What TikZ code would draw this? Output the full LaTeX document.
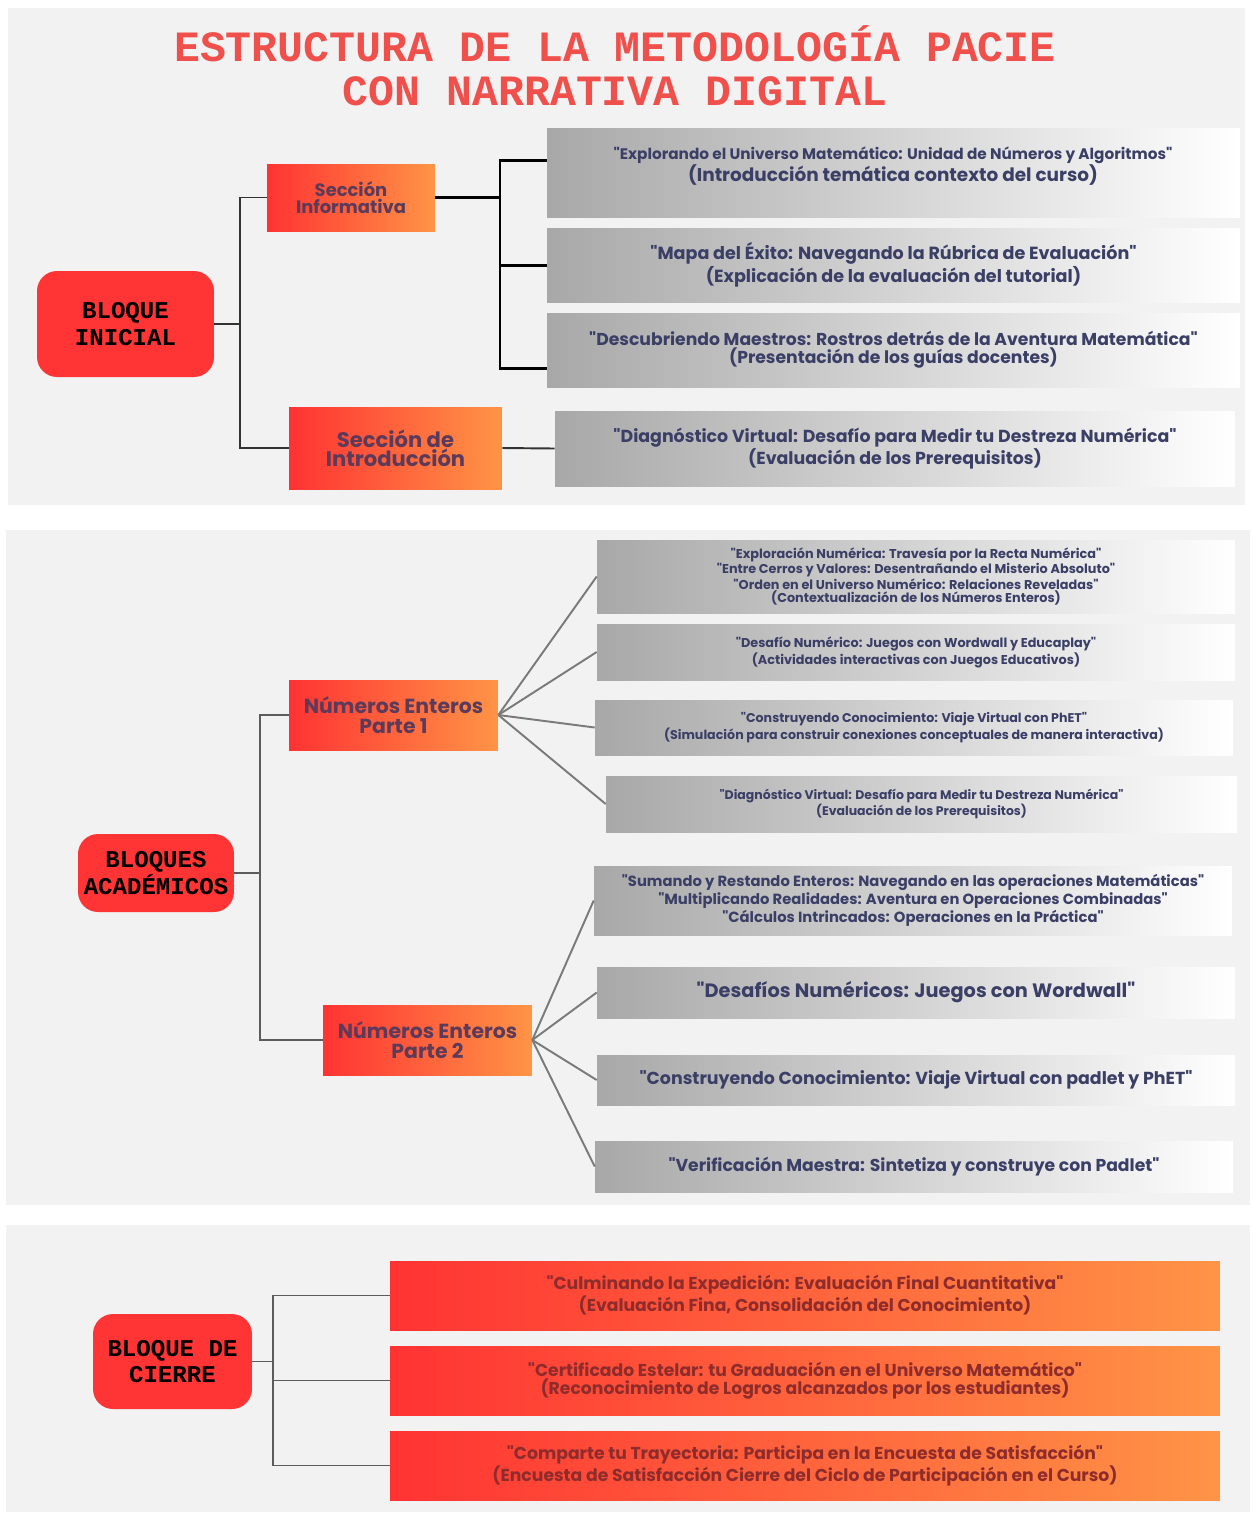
\documentclass[tikz,border=0pt]{standalone}
\usepackage{fontspec}
\setmainfont{Poppins}[Ligatures=TeXOff]
\newfontfamily\monofont{Liberation Mono}

\definecolor{panelgray}{HTML}{F2F2F2}
\definecolor{blockred}{HTML}{FF3434}
\definecolor{gradred}{HTML}{FF3333}
\definecolor{gradorange}{HTML}{FF9446}
\definecolor{titlered}{HTML}{F0504C}
\definecolor{boxgray}{HTML}{A8A8A8}
\definecolor{navytext}{HTML}{3B3F66}
\definecolor{purpletext}{HTML}{5C3A5A}
\definecolor{maroontext}{HTML}{8E2C2C}
\definecolor{linedark}{HTML}{333333}
\definecolor{linegray}{HTML}{7A7A7A}

\tikzset{
  panel/.style={fill=panelgray, draw=none},
  bloque/.style={fill=blockred, rounded corners=0.4cm, inner sep=0pt, align=center,
    font={\monofont\bfseries\fontsize{13.7}{15.3}\selectfont}, text=black},
  seccion/.style={left color=gradred, right color=gradorange, inner sep=0pt, align=center,
    text=purpletext},
  graybox/.style={left color=boxgray, right color=white, inner sep=0pt, align=center,
    text=navytext},
  cierrebox/.style={left color=gradred, right color=gradorange, inner sep=0pt, align=center,
    text=maroontext, minimum width=16.6cm, minimum height=1.38cm,
    font={\bfseries\fontsize{9.8}{9}\selectfont}},
  link/.style={draw=linedark, line width=1.1pt},
  bracket/.style={draw=black, line width=1.7pt},
  fan/.style={draw=linegray, line width=1.1pt}
}

\begin{document}
\begin{tikzpicture}[x=0.02cm, y=-0.02cm]
  % Page and panels
  \useasboundingbox (0,0) rectangle (1253,1516);
  \fill[white] (0,0) rectangle (1253,1516);
  \path[panel] (8,8) rectangle (1245,505);
  \path[panel] (6,530) rectangle (1250,1205);
  \path[panel] (6,1225) rectangle (1250,1512);

  % Title
  \node[align=center, text=titlered, font={\monofont\bfseries\fontsize{24.6}{25}\selectfont}]
    (title) at (615,66) {ESTRUCTURA DE LA METODOLOGÍA PACIE\\CON NARRATIVA DIGITAL};

  % Bloque inicial
  \node[bloque, minimum width=3.54cm, minimum height=2.12cm] (bi) at (125.5,324) {BLOQUE\\INICIAL};
  \node[seccion, minimum width=3.36cm, minimum height=1.34cm,
    font={\bfseries\fontsize{10.2}{9.5}\selectfont}] (si) at (351,197.5) {Sección\\Informativa};
  \node[seccion, minimum width=4.26cm, minimum height=1.64cm,
    font={\bfseries\fontsize{12}{11}\selectfont}] (sint) at (395.5,448) {Sección de\\Introducción};

  \node[graybox, minimum width=13.86cm, minimum height=1.78cm] (g1) at (893.5,172.5) {};
  \node[align=center, text=navytext, font={\bfseries\fontsize{8.7}{8.8}\selectfont}] (g1txt) at (893,166)
    {"Explorando el Universo Matemático: Unidad de Números y Algoritmos"\\
     {\fontsize{10.5}{8.8}\selectfont(Introducción temática contexto del curso)}};
  \node[graybox, minimum width=13.86cm, minimum height=1.48cm,
    font={\bfseries\fontsize{10}{9}\selectfont}] (g2) at (893.5,265)
    {"Mapa del Éxito: Navegando la Rúbrica de Evaluación"\\(Explicación de la evaluación del tutorial)};
  \node[graybox, minimum width=13.86cm, minimum height=1.48cm,
    font={\bfseries\fontsize{9.8}{9}\selectfont}] (g3) at (893.5,350)
    {"Descubriendo Maestros: Rostros detrás de la Aventura Matemática"\\(Presentación de los guías docentes)};
  \node[graybox, minimum width=13.6cm, minimum height=1.5cm,
    font={\bfseries\fontsize{9.9}{9.2}\selectfont}] (g4) at (895,448.5)
    {"Diagnóstico Virtual: Desafío para Medir tu Destreza Numérica"\\(Evaluación de los Prerequisitos)};

  \coordinate (j1) at (240,324);
  \coordinate (j2) at (500,197.5);
  \draw[link] (bi.east) -- (j1);
  \draw[link] (si.west) -| (j1) |- (sint.west);
  \draw[bracket] (si.east) -- (j2);
  \draw[bracket] ([yshift=0.25cm]g1.west) -| (j2) |- ([yshift=-0.36cm]g3.west);
  \draw[bracket] (j2) |- (g2.west);
  \draw[link] (sint.east) -- (g4.west);

  % Bloques academicos
  \node[bloque, minimum width=3.12cm, minimum height=1.56cm] (ba) at (156,873) {BLOQUES\\ACADÉMICOS};
  \node[seccion, minimum width=4.18cm, minimum height=1.4cm,
    font={\bfseries\fontsize{11.6}{11}\selectfont}] (p1) at (393.5,715) {Números Enteros\\Parte 1};
  \node[seccion, minimum width=4.18cm, minimum height=1.4cm,
    font={\bfseries\fontsize{11.6}{11}\selectfont}] (p2) at (427.5,1040) {Números Enteros\\Parte 2};

  \node[graybox, minimum width=12.76cm, minimum height=1.46cm,
    font={\bfseries\fontsize{7.3}{5.4}\selectfont}] (ga) at (916,576.5)
    {"Exploración Numérica: Travesía por la Recta Numérica"\\
     "Entre Cerros y Valores: Desentrañando el Misterio Absoluto"\\
     "Orden en el Universo Numérico: Relaciones Reveladas"\\
     (Contextualización de los Números Enteros)};
  \node[graybox, minimum width=12.76cm, minimum height=1.12cm,
    font={\bfseries\fontsize{7.3}{5.8}\selectfont}] (gb) at (916,652)
    {"Desafío Numérico: Juegos con Wordwall y Educaplay"\\(Actividades interactivas con Juegos Educativos)};
  \node[graybox, minimum width=12.76cm, minimum height=1.1cm,
    font={\bfseries\fontsize{7.2}{6.2}\selectfont}] (gc) at (914,727.5)
    {"Construyendo Conocimiento: Viaje Virtual con PhET"\\(Simulación para construir conexiones conceptuales de manera interactiva)};
  \node[graybox, minimum width=12.62cm, minimum height=1.12cm,
    font={\bfseries\fontsize{7.1}{5.8}\selectfont}] (gd) at (921.5,804)
    {"Diagnóstico Virtual: Desafío para Medir tu Destreza Numérica"\\(Evaluación de los Prerequisitos)};

  \node[graybox, minimum width=12.76cm, minimum height=1.38cm,
    font={\bfseries\fontsize{8.4}{6.3}\selectfont}] (ge) at (913,900.5)
    {"Sumando y Restando Enteros: Navegando en las operaciones Matemáticas"\\
     "Multiplicando Realidades: Aventura en Operaciones Combinadas"\\
     "Cálculos Intrincados: Operaciones en la Práctica"};
  \node[graybox, minimum width=12.76cm, minimum height=1.02cm,
    font={\bfseries\fontsize{11}{11}\selectfont}] (gf) at (916,992.5)
    {"Desafíos Numéricos: Juegos con Wordwall"};
  \node[graybox, minimum width=12.76cm, minimum height=1.0cm,
    font={\bfseries\fontsize{9.9}{9.9}\selectfont}] (gg) at (916,1080)
    {"Construyendo Conocimiento: Viaje Virtual con padlet y PhET"};
  \node[graybox, minimum width=12.76cm, minimum height=1.02cm,
    font={\bfseries\fontsize{9.8}{9.8}\selectfont}] (gh) at (914,1166.5)
    {"Verificación Maestra: Sintetiza y construye con Padlet"};

  \coordinate (j3) at (260,873);
  \draw[link, draw=linedark!80] (ba.east) -- (j3);
  \draw[link, draw=linedark!80] (p1.west) -| (j3) |- (p2.west);
  \foreach \g in {ga,gb,gc,gd}
    \draw[fan] (p1.east) -- (\g.west);
  \foreach \g in {ge,gf,gg,gh}
    \draw[fan] (p2.east) -- (\g.west);

  % Bloque de cierre
  \node[bloque, minimum width=3.18cm, minimum height=1.9cm] (bc) at (172.5,1361.5) {BLOQUE DE\\CIERRE};
  \node[cierrebox] (ci) at (805,1295.5)
    {"Culminando la Expedición: Evaluación Final Cuantitativa"\\(Evaluación Fina, Consolidación del Conocimiento)};
  \node[cierrebox] (cj) at (805,1380.5)
    {"Certificado Estelar: tu Graduación en el Universo Matemático"\\(Reconocimiento de Logros alcanzados por los estudiantes)};
  \node[cierrebox] (ck) at (805,1465.5)
    {"Comparte tu Trayectoria: Participa en la Encuesta de Satisfacción"\\(Encuesta de Satisfacción Cierre del Ciclo de Participación en el Curso)};

  \coordinate (j4) at (273,1361.5);
  \draw[link, line width=0.8pt, draw=linedark!80] (bc.east) -- (j4);
  \draw[link, line width=0.8pt, draw=linedark!80] (ci.west) -| (j4) |- (ck.west);
  \draw[link, line width=0.8pt, draw=linedark!80] (j4) |- (cj.west);
\end{tikzpicture}
\end{document}
